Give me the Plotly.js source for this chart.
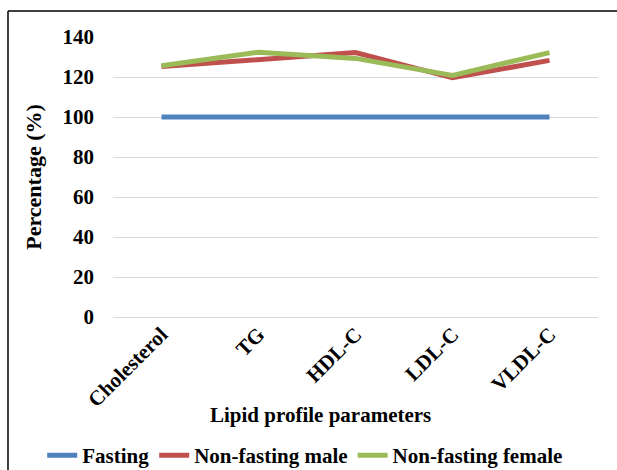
<!DOCTYPE html>
<html>
<head>
<meta charset="utf-8">
<script src="https://cdn.plot.ly/plotly-3.0.1.min.js"></script>
<style>
html,body{margin:0;padding:0;background:#fff;}
#chart{width:617px;height:470px;}
</style>
</head>
<body>
<div id="chart"></div>
<script>
const categories = ["Cholesterol", "TG", "HDL-C", "LDL-C", "VLDL-C"];
const fasting = [100, 100, 100, 100, 100];
const nonFastingMale = [125.2, 128.5, 132.2, 119.6, 128.3];
const nonFastingFemale = [125.6, 132.4, 129.3, 120.8, 132.2];
const seriesNames = ["Fasting", "Non-fasting male", "Non-fasting female"];
const yTicks = [0, 20, 40, 60, 80, 100, 120, 140];

const font = "Liberation Serif";
const colors = ["#4F81BD", "#C0504D", "#9BBB59"];
const series = [fasting, nonFastingMale, nonFastingFemale];

const traces = series.map((s, i) => ({
  x: categories,
  y: s,
  name: seriesNames[i],
  type: "scatter",
  mode: "lines",
  line: {color: colors[i], width: 5}
}));

const layout = {
  width: 617,
  height: 470,
  margin: {l: 113, r: 19, t: 37, b: 153, autoexpand: false},
  paper_bgcolor: "#fff",
  plot_bgcolor: "#fff",
  font: {family: font, size: 21, color: "#000"},
  showlegend: true,
  legend: {
    orientation: "h",
    x: -0.146, xanchor: "left",
    y: -0.495, yanchor: "middle",
    font: {family: font, size: 21, color: "#000", weight: "bold"},
    itemwidth: 30,
    tracegroupgap: 0,
    bgcolor: "rgba(0,0,0,0)"
  },
  xaxis: {
    type: "category",
    range: [-0.5, 4.5],
    tickangle: -45,
    tickfont: {family: font, size: 21, color: "#000", weight: "bold"},
    showgrid: false,
    showline: false,
    zeroline: false,
    ticks: "",
    automargin: false
  },
  yaxis: {
    range: [0, 140],
    tickvals: yTicks,
    tickfont: {family: font, size: 21, color: "#000", weight: "bold"},
    showgrid: true,
    gridcolor: "#d9d9d9",
    gridwidth: 1,
    zeroline: true,
    zerolinecolor: "#d9d9d9",
    zerolinewidth: 1,
    showline: false,
    ticks: "",
    ticklabelstandoff: 18,
    automargin: false,
    title: {text: "Percentage (%)", font: {family: font, size: 22, color: "#000", weight: "bold"}, standoff: 14}
  },
  annotations: [{
    text: "Lipid profile parameters",
    xref: "paper", yref: "paper",
    x: 0.427, y: -0.35,
    xanchor: "center", yanchor: "middle",
    showarrow: false,
    font: {family: font, size: 21, color: "#000", weight: "bold"}
  }],
  shapes: [
    {type: "line", xref: "paper", yref: "paper", x0: -0.2165, x1: -0.2165, y0: 1.0929, y1: -0.6, line: {color: "#000", width: 1.5}},
    {type: "line", xref: "paper", yref: "paper", x0: -0.2165, x1: 1.1, y0: 1.0929, y1: 1.0929, line: {color: "#000", width: 1.5}}
  ]
};

Plotly.newPlot("chart", traces, layout, {displayModeBar: false, staticPlot: true});
</script>
</body>
</html>
